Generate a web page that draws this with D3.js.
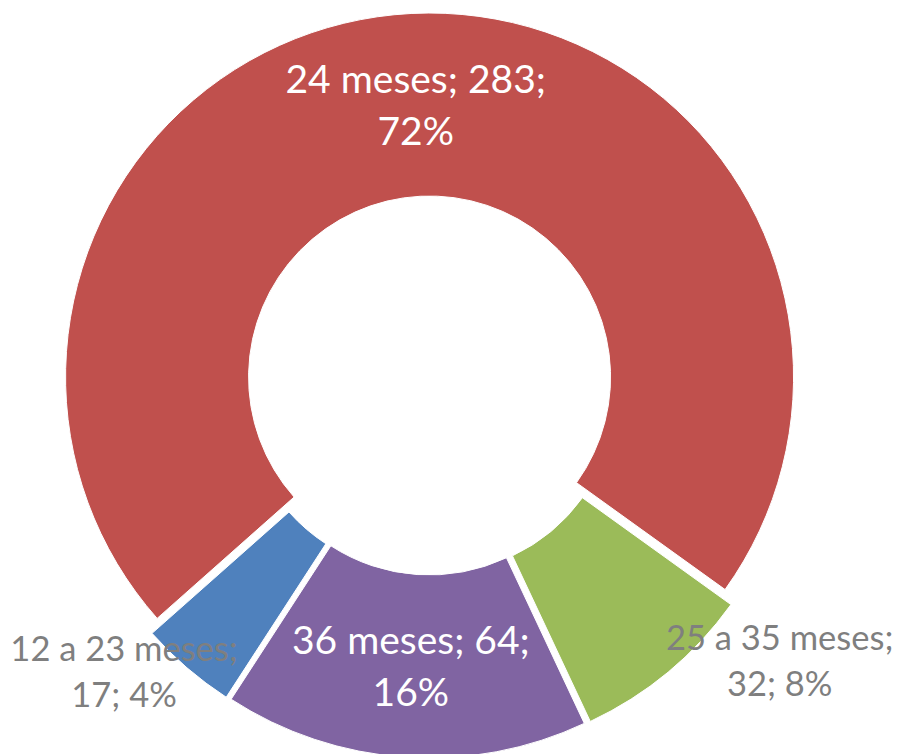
<!DOCTYPE html>
<html>
<head>
<meta charset="utf-8">
<script src="https://cdn.jsdelivr.net/npm/d3@7"></script>
<style>
  body { margin: 0; background: #fff; }
</style>
</head>
<body>
<div class="chart"></div>
<script>
// data, in the order of the worksheet
const categories = ["12 a 23 meses", "24 meses", "25 a 35 meses", "36 meses"]
const counts = [17, 283, 32, 64]
const percents = ["4%", "72%", "8%", "16%"]
const colors = ["#4F81BD", "#C0504D", "#9BBB59", "#8064A2"]

const width = 898;
const height = 754;
const cx = 430, cy = 385.5;
const outer = 364, inner = 181;
const explode = 8.5;
const deg = Math.PI / 180;

// inside labels sit on the arc centroid, outside ones are placed by angle/radius from the centre
const outside = {
    "12 a 23 meses": { angle: 226.9, r: 419, size: 34.5, lh: 45.5 },
    "25 a 35 meses": { angle: 128.2, r: 445, size: 34.5, lh: 45.5 }
}

const rows = categories.map((c, i) => ({ label: c, value: counts[i], pct: percents[i], color: colors[i] }))

const svg = d3.select(".chart").append("svg").attr("width", width).attr("height", height)
const g = svg.append("g").attr("transform", 'translate(' + cx + ',' + cy + ')')

const pie = d3.pie().sort(null).value(d => d.value).startAngle(213 * deg).endAngle(573 * deg)
const arc = d3.arc().innerRadius(inner).outerRadius(outer)
const arcs = pie(rows)

const shift = d => {
    const a = (d.startAngle + d.endAngle) / 2
    return [explode * Math.sin(a), -explode * Math.cos(a)]
}

g.selectAll("path")
    .data(arcs)
    .join("path")
    .attr("transform", d => 'translate(' + shift(d) + ')')
    .attr("d", arc)
    .attr("fill", d => d.data.color)
    .attr("stroke", "#fff")
    .attr("stroke-width", 1);

const labels = g.selectAll("g.lbl")
    .data(arcs)
    .join("g")
    .attr("class", "lbl")
    .attr("transform", d => {
        const o = outside[d.data.label]
        if (o) return 'translate(' + [o.r * Math.sin(o.angle * deg), -o.r * Math.cos(o.angle * deg)] + ')'
        const c = arc.centroid(d)
        const s = shift(d)
        return 'translate(' + [c[0] + s[0], c[1] + s[1]] + ')'
    })

labels.each(function (d) {
    const o = outside[d.data.label]
    const size = o ? o.size : 39
    const lh = o ? o.lh : 52
    const lines = [d.data.label + "; " + d.data.value + ";", d.data.pct]
    if (o) {
        lines[0] = d.data.label + ";"
        lines[1] = d.data.value + "; " + d.data.pct
    }
    d3.select(this).selectAll("text")
        .data(lines)
        .join("text")
        .attr("text-anchor", "middle")
        .attr("y", (t, i) => (i - 0.5) * lh + size * 0.36)
        .attr("font-family", "Lato, 'Open Sans', sans-serif")
        .attr("font-size", size)
        .attr("fill", o ? "#7F7F7F" : "#fff")
        .text(t => t);
});
</script>
</body>
</html>
